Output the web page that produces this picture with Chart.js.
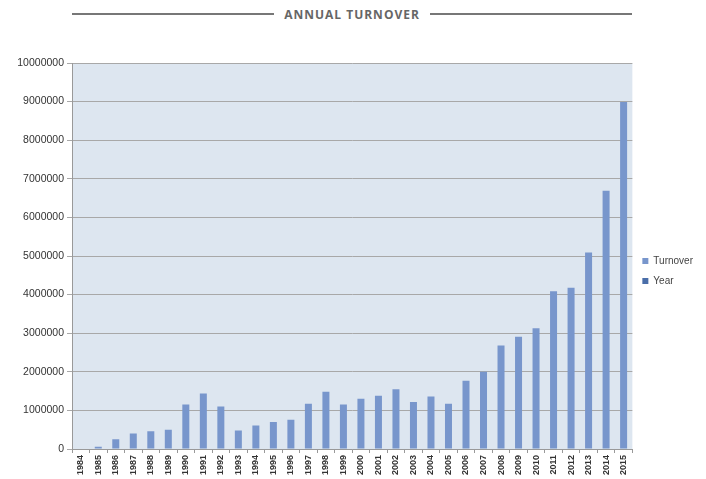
<!DOCTYPE html>
<html>
<head>
<meta charset="utf-8">
<script src="https://cdn.jsdelivr.net/npm/chart.js@4/dist/chart.umd.min.js"></script>
<style>
  html, body { margin: 0; padding: 0; background: #fff; }
  #wrap { position: relative; width: 706px; height: 479px; }
  #title {
    position: absolute; left: 72px; top: 6px; width: 560px; height: 16px;
    display: flex; align-items: center;
    font-family: "Open Sans", sans-serif; font-weight: bold; font-size: 12px;
    letter-spacing: 1px; color: #666;
  }
  #title .line { flex: 1; height: 1.5px; background: #777; }
  #title span { padding: 0 10px; }
  #chart { position: absolute; left: 0; top: 0; }
</style>
</head>
<body>
<div id="wrap">
  <div id="title"><div class="line"></div><span>ANNUAL TURNOVER</span><div class="line"></div></div>
  <canvas id="chart" width="706" height="479"></canvas>
</div>
<script>
// data
const years = ['1984','1985','1986','1987','1988','1989','1990','1991','1992','1993','1994','1995','1996',
  '1997','1998','1999','2000','2001','2002','2003','2004','2005','2006','2007','2008','2009','2010',
  '2011','2012','2013','2014','2015'];
const turnover = [0, 60000, 250000, 400000, 460000, 500000, 1150000, 1440000, 1100000, 480000, 610000,
  700000, 760000, 1170000, 1480000, 1150000, 1300000, 1380000, 1550000, 1220000, 1360000, 1170000,
  1770000, 2000000, 2680000, 2910000, 3130000, 4090000, 4180000, 5090000, 6690000, 8990000];
const yearSeries = []; // shown in legend only
const yTicks = { min: 0, max: 10000000, step: 1000000 };

// fill plot background like the excel chart
const plotBg = {
  id: 'plotBg',
  beforeDraw(chart) {
    const { ctx, chartArea: a } = chart;
    ctx.save();
    ctx.fillStyle = '#dde6f0';
    ctx.fillRect(a.left, a.top, a.right - a.left, a.bottom - a.top);
    ctx.restore();
  }
};

new Chart(document.getElementById('chart'), {
  type: 'bar',
  data: {
    labels: years,
    datasets: [
      {
        label: 'Turnover',
        data: turnover,
        backgroundColor: '#7896cc',
        borderWidth: 0,
        grouped: false,
        barPercentage: 0.4,
        categoryPercentage: 1
      },
      {
        label: 'Year',
        data: yearSeries,
        backgroundColor: '#4a6ea9',
        borderWidth: 0,
        grouped: false
      }
    ]
  },
  options: {
    responsive: false,
    animation: false,
    layout: { padding: { top: 63, right: 3, bottom: 0, left: 0 } },
    plugins: {
      legend: {
        position: 'right',
        labels: {
          boxWidth: 6, boxHeight: 6, padding: 10,
          font: { family: 'Liberation Sans', size: 10 }, color: '#444'
        }
      },
      tooltip: { enabled: false }
    },
    scales: {
      x: {
        grid: { display: true, drawOnChartArea: false, tickLength: 4, color: '#999', offset: true },
        border: { color: '#999' },
        ticks: {
          autoSkip: false, minRotation: 90, maxRotation: 90, padding: 2,
          font: { family: 'Liberation Sans', size: 9, weight: 'bold' }, color: '#333'
        },
        afterFit(scale) { scale.height = 30; }
      },
      y: {
        min: yTicks.min, max: yTicks.max,
        grid: { color: '#a8a8a8', tickLength: 5, lineWidth: 1 },
        border: { color: '#999' },
        ticks: {
          stepSize: yTicks.step, padding: 3,
          font: { family: 'Liberation Sans', size: 10.5 }, color: '#333',
          callback: v => String(v)
        },
        afterFit(scale) { scale.width = 72; }
      }
    }
  },
  plugins: [plotBg]
});
</script>
</body>
</html>
